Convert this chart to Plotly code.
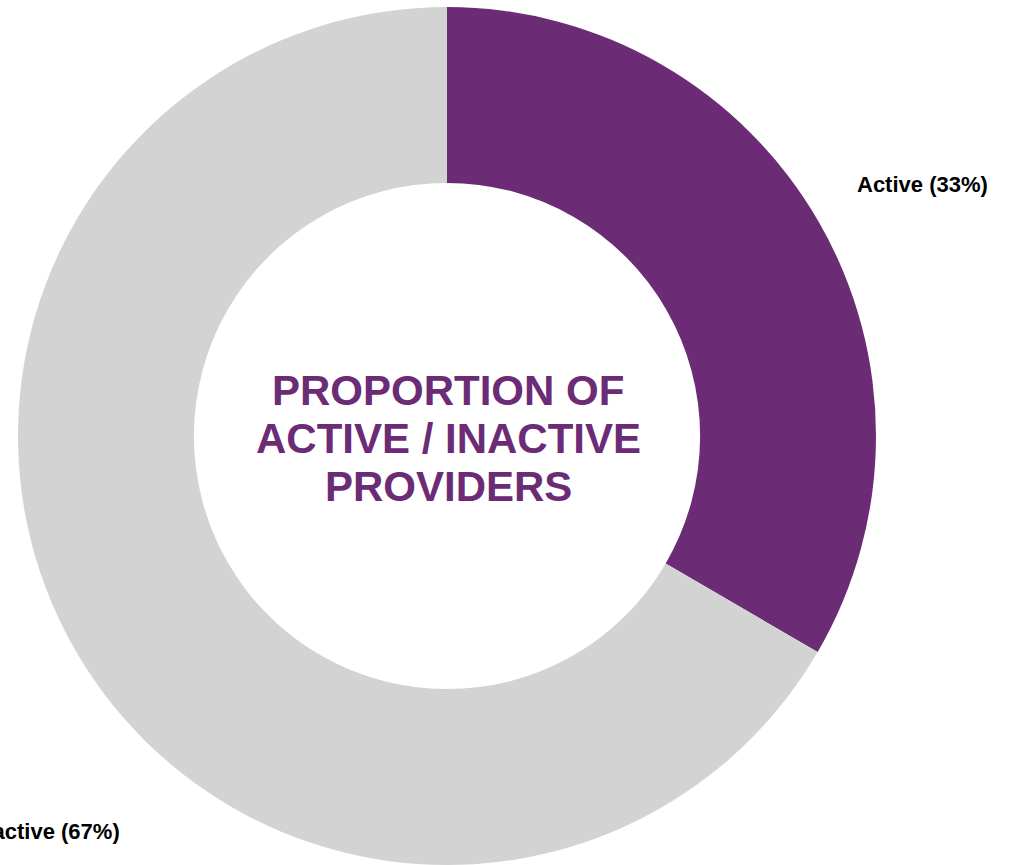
import plotly.graph_objects as go

# Provider status split (percent, read from the slice boundary)
labels = ["Active", "Inactive"]
values = [33.4, 66.6]
colors = ["#6B2C75", "#D3D3D3"]
center_lines = ["PROPORTION OF", "ACTIVE / INACTIVE", "PROVIDERS"]

W, H = 1013, 865

pie = go.Pie(
    labels=labels, values=values, hole=0.59, sort=False, direction="clockwise",
    rotation=0, textinfo="none", hoverinfo="label+percent",
    marker=dict(colors=colors, line=dict(width=0)),
    domain=dict(x=[18 / W, 876 / W], y=[0, 858 / H]),
)

fig = go.Figure(data=[pie])

total = sum(values)
lbl_font = dict(family="Liberation Sans, Arial, sans-serif", size=22, color="#000000")
annotations = [
    dict(text="<b>%s (%d%%)</b>" % (labels[0], round(100 * values[0] / total)),
         x=922 / W, y=1 - 185 / H,
         xanchor="center", yanchor="middle", showarrow=False, font=lbl_font),
    dict(text="<b>%s (%d%%)</b>" % (labels[1], round(100 * values[1] / total)),
         x=122 / W, y=1 - 831 / H,
         xanchor="right", yanchor="middle", showarrow=False, font=lbl_font),
]
# centre title, one annotation per line to keep tight line spacing
for i, line in enumerate(center_lines):
    annotations.append(dict(
        text="<b>%s</b>" % line, x=448 / W, y=1 - (391 + 47.5 * i) / H,
        xanchor="center", yanchor="middle", showarrow=False,
        font=dict(family="Liberation Sans, Arial, sans-serif", size=42, color="#6B2C75"),
    ))

fig.update_layout(
    width=W, height=H, margin=dict(l=0, r=0, t=0, b=0),
    showlegend=False, paper_bgcolor="white", plot_bgcolor="white",
    annotations=annotations,
)

# drop the default page margin so the figure sits at the window's corner
fig.write_html("out.html", config={"displayModeBar": False},
               post_script="document.body.style.margin='0';")
